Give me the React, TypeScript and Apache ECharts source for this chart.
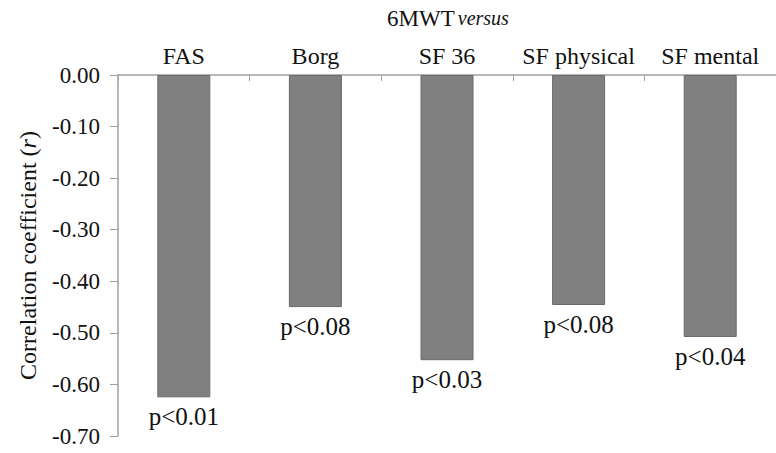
import React, { useEffect, useRef } from "react";
import * as echarts from "echarts";

const categories = ["FAS", "Borg", "SF 36", "SF physical", "SF mental"];
const values = [-0.625, -0.45, -0.553, -0.446, -0.508];
const pLabels = ["p<0.01", "p<0.08", "p<0.03", "p<0.08", "p<0.04"];

const FONT = "Liberation Serif";

export default function App() {
  const ref = useRef<HTMLDivElement>(null);
  useEffect(() => {
    if (!ref.current) return;
    const chart = echarts.init(ref.current, undefined, { renderer: "svg" });
    chart.setOption({
      animation: false,
      backgroundColor: "#ffffff",
      textStyle: { fontFamily: FONT },
      graphic: [
        {
          type: "text",
          x: 448,
          y: 18,
          style: {
            text: "{a|6MWT} {b|versus}",
            align: "center",
            verticalAlign: "middle",
            fontFamily: FONT,
            rich: {
              a: { fontFamily: FONT, fontSize: 23, fill: "#111" },
              b: { fontFamily: FONT, fontSize: 20, fontStyle: "italic", fill: "#111" },
            },
          },
        },
      ],
      grid: { left: 118, right: -14, top: 75, bottom: 17 },
      xAxis: {
        type: "category",
        position: "top",
        data: categories,
        axisLine: { show: true, onZero: false, lineStyle: { color: "#a0a0a0", width: 1.5 } },
        axisTick: { show: true, inside: true, length: 6, alignWithLabel: false, lineStyle: { color: "#a0a0a0" } },
        axisLabel: { fontFamily: FONT, fontSize: 24, color: "#111", margin: 7, interval: 0 },
      },
      yAxis: {
        type: "value",
        min: -0.7,
        max: 0,
        interval: 0.1,
        name: "{t|Correlation coefficient (}{i|r}{t|)}",
        nameLocation: "middle",
        nameGap: 78,
        nameRotate: 90,
        nameTextStyle: {
          fontFamily: FONT,
          rich: {
            t: { fontFamily: FONT, fontSize: 24, color: "#111" },
            i: { fontFamily: FONT, fontSize: 24, fontStyle: "italic", color: "#111" },
          },
        },
        axisLine: { show: true, lineStyle: { color: "#a0a0a0", width: 1.5 } },
        axisTick: { show: true, length: 8, lineStyle: { color: "#a0a0a0" } },
        splitLine: { show: false },
        axisLabel: {
          fontFamily: FONT,
          fontSize: 23,
          color: "#111",
          margin: 18,
          formatter: (v: number) => (Math.abs(v) < 1e-9 ? "0.00" : v.toFixed(2)),
        },
      },
      series: [
        {
          type: "bar",
          data: values.map((v, i) => ({
            value: v,
            label: { formatter: pLabels[i] },
          })),
          barWidth: 53,
          itemStyle: { color: "#808080", borderColor: "#6a6a6a", borderWidth: 1 },
          label: {
            show: true,
            position: "bottom",
            distance: 7,
            fontFamily: FONT,
            fontSize: 25,
            color: "#111",
          },
        },
      ],
    });
    return () => chart.dispose();
  }, []);
  return <div ref={ref} style={{ width: 776, height: 453, position: "absolute", left: 0, top: 0 }} />;
}
